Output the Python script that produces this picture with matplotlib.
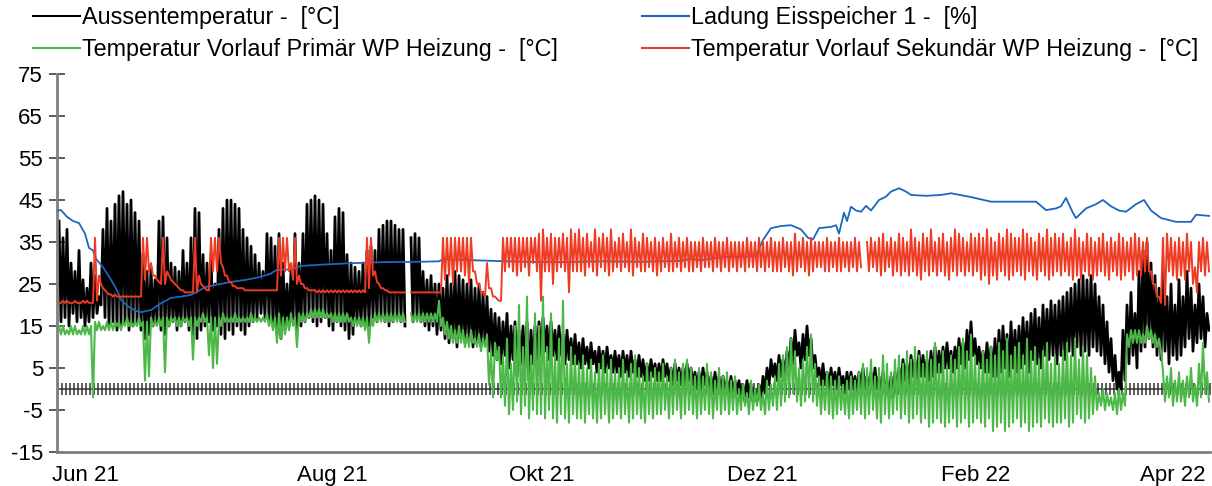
import numpy as np
import matplotlib.pyplot as plt

plt.rcParams['font.family'] = ['Liberation Sans', 'DejaVu Sans']
plt.rcParams['axes.unicode_minus'] = False

nan = np.nan

# x axis = day index (about 4 px per day)
month_pos = [6.75, 68.5, 121, 176, 229.5, 278.75]
month_labels = ["Jun 21", "Aug 21", "Okt 21", "Dez 21", "Feb 22", "Apr 22"]

# Aussentemperatur: daily max / min
aussen_hi = [
    40, 36, 38, 30, 28, 33, 26, 24, 30, 27,
    22, 38, 43, 40, 44, 46, 47, 44, 45, 42,
    40, 32, 28, 29, 26, 40, 41, 36, 30, 29,
    28, 33, 30, 36, 43, 42, 32, 30, 32, 25,
    38, 43, 45, 45, 44, 43, 38, 36, 34, 32,
    30, 28, 37, 36, 34, 37, 30, 25, 28, 37,
    30, 37, 44, 45, 46, 45, 44, 37, 33, 41,
    43, 42, 32, 30, 29, 28, 30, 33, 34, 33,
    38, 39, 40, 40, 39, 38, 38, nan, 36, 37,
    36, 28, 26, 27, 25, 25, 24, 27, 25, 28,
    27, 26, 25, 26, 24, 25, 23, 22, 19, 18,
    17, 16, 18, 15, 16, 14, 15, 16, 14, 15,
    16, 17, 15, 16, 14, 15, 13, 14, 12, 13,
    11, 12, 10, 11, 9, 10, 9, 10, 8, 9,
    8, 9, 8, 9, 7, 8, 7, 6, 7, 6,
    6, 7, 6, 5, 6, 5, 5, 6, 5, 4,
    4, 5, 4, 3, 4, 3, 3, 2, 3, 2,
    2, 1, 2, 1, 0, 1, 3, 5, 7, 6,
    8, 7, 9, 12, 14, 11, 13, 15, 12, 8,
    5, 6, 4, 5, 4, 5, 3, 4, 4, 3,
    4, 5, 3, 4, 5, 3, 4, 2, 3, 4,
    5, 7, 6, 8, 7, 9, 8, 7, 9, 10,
    9, 10, 11, 9, 10, 12, 11, 14, 16, 12,
    10, 9, 11, 10, 12, 14, 15, 13, 16, 14,
    15, 17, 16, 18, 19, 17, 20, 19, 21, 20,
    21, 22, 23, 24, 25, 26, 27, 26, 27, 25,
    22, 20, 16, 12, 8, 4, 14, 20, 23, 18,
    28, 33, 35, 30, 27, 24, 28, 22, 25, 20,
    26, 22, 28, 24, 20, 25, 22, 18,
]
aussen_lo = [
    16, 17, 15, 18, 16, 17, 15, 16, 17, 18,
    20, 17, 15, 16, 14, 15, 16, 14, 15, 16,
    14, 12, 13, 15, 16, 14, 13, 15, 16, 14,
    15, 16, 14, 13, 12, 14, 15, 16, 14, 15,
    13, 12, 14, 13, 15, 14, 13, 15, 16, 17,
    18, 17, 16, 15, 13, 12, 14, 15, 16, 14,
    15, 16, 17, 16, 15, 16, 17, 15, 14, 16,
    15, 14, 12, 13, 16, 15, 16, 15, 17, 16,
    17, 16, 15, 16, 17, 16, 15, nan, 16, 17,
    16, 15, 14, 15, 13, 14, 12, 11, 12, 10,
    12, 11, 12, 10, 11, 10, 11, 9, 8, 7,
    6, 8, 5, 7, 3, 6, 5, 2, 6, 7,
    8, 9, 7, 8, 7, 8, 6, 7, 6, 6,
    5, 6, 5, 6, 4, 5, 4, 5, 4, 4,
    3, 4, 3, 4, 3, 3, 2, 2, 3, 2,
    2, 3, 2, 1, 2, 1, 1, 2, 1, 0,
    0, 1, 0, -1, 0, -1, -1, -1, -2, -1,
    -2, -3, -2, -3, -3, -2, -1, 1, 3, 2,
    3, 3, 4, 6, 8, 5, 7, 8, 5, 3,
    1, 1, 0, 1, 0, 1, -1, 0, 0, -1,
    0, 0, -1, 0, 0, -2, -1, -2, -2, -1,
    1, 2, 1, 3, 2, 3, 3, 2, 3, 4,
    4, 5, 5, 4, 5, 6, 5, 7, 8, 6,
    5, 4, 4, 3, 3, 4, 5, 3, 5, 4,
    5, 6, 4, 7, 6, 5, 8, 7, 8, 6,
    8, 7, 9, 8, 10, 8, 9, 8, 10, 9,
    8, 6, 4, 2, 0, 0, 2, 6, 8, 5,
    9, 10, 12, 10, 8, 7, 9, 6, 8, 7,
    8, 10, 12, 9, 11, 12, 10, 14,
]

# Temperatur Vorlauf Primaer WP Heizung: daily max / min
primaer_hi = [
    15, 15, 14, 15, 15, 14, 15, 15, 15, 16,
    16, 15, 16, 16, 16, 16, 16, 17, 16, 16,
    17, 16, 16, 17, 16, 17, 17, 17, 17, 17,
    17, 17, 17, 17, 17, 17, 18, 17, 17, 17,
    17, 18, 17, 17, 18, 17, 17, 17, 18, 17,
    17, 17, 18, 17, 17, 18, 17, 17, 18, 17,
    18, 18, 18, 19, 19, 19, 19, 18, 18, 18,
    18, 18, 18, 17, 17, 17, 17, 17, 17, 18,
    18, 18, 18, 18, 18, 18, 18, nan, 18, 18,
    18, 18, 18, 18, 18, 21, 17, 16, 15, 14,
    15, 14, 13, 14, 12, 13, 12, 13, 9, 11,
    10, 8, 12, 6, 15, 20, 10, 22, 8, 18,
    15, 22, 10, 18, 8, 12, 21, 6, 10, 8,
    6, 8, 5, 7, 4, 6, 8, 5, 7, 4,
    5, 7, 4, 6, 8, 5, 3, 6, 4, 5,
    4, 6, 3, 5, 7, 4, 6, 7, 5, 3,
    5, 3, 6, 4, 2, 5, 3, 4, 2, 3,
    0, 1, -1, 2, 0, 1, -1, 2, 1, 3,
    6, 8, 10, 12, 9, 5, 7, 10, 13, 6,
    3, 2, 4, 3, 2, 3, 1, 2, 3, 2,
    4, 6, 5, 7, 3, 5, 8, 6, 4, 7,
    8, 6, 9, 7, 10, 8, 6, 9, 7, 11,
    6, 9, 5, 8, 7, 10, 12, 9, 13, 8,
    6, 9, 7, 10, 8, 11, 9, 12, 8, 10,
    11, 8, 12, 9, 10, 7, 9, 11, 6, 8,
    6, 9, 11, 8, 12, 7, 10, 8, 5, 3,
    -1, 0, -1, -2, -1, 0, -1, 13, 14, 14,
    14, 13, 15, 14, 13, 12, 4, 3, 5, 2,
    4, 2, 3, 5, 1, 6, 11, 4,
]
primaer_lo = [
    13, 13, 13, 13, 13, 13, 13, 13, -2, 14,
    14, 14, 14, 14, 15, 14, 15, 15, 15, 15,
    15, 2, 3, 15, 15, 15, 4, 15, 16, 15,
    15, 16, 15, 7, 15, 16, 16, 8, 5, 6,
    15, 16, 16, 16, 16, 16, 16, 16, 16, 16,
    16, 16, 15, 14, 11, 12, 13, 14, 15, 10,
    16, 16, 17, 17, 17, 17, 17, 17, 16, 16,
    16, 16, 16, 15, 15, 15, 14, 11, 15, 16,
    16, 16, 16, 16, 16, 16, 16, nan, 16, 16,
    16, 16, 16, 16, 16, 15, 13, 12, 11, 11,
    11, 10, 10, 11, 10, 9, 10, 1, -2, 7,
    -2, -4, -6, -5, -3, -6, -4, -7, -5, -6,
    -6, -7, -5, -7, -8, -6, -7, -8, -6, -7,
    -7, -8, -6, -7, -8, -7, -6, -8, -7, -6,
    -7, -6, -8, -7, -6, -7, -8, -6, -7, -6,
    -6, -5, -7, -6, -5, -7, -6, -5, -6, -7,
    -6, -5, -6, -7, -5, -6, -5, -6, -5, -6,
    -5, -4, -6, -5, -4, -5, -6, -5, -4, -5,
    -4, -3, -2, -1, -3, -4, -3, -2, -3, -4,
    -6, -5, -6, -7, -6, -5, -6, -7, -6, -5,
    -6, -7, -6, -5, -7, -8, -6, -7, -6, -5,
    -7, -6, -8, -7, -6, -8, -7, -9, -8, -7,
    -8, -9, -8, -7, -9, -8, -7, -9, -8, -7,
    -8, -9, -7, -10, -9, -8, -10, -9, -8, -7,
    -9, -8, -10, -9, -8, -9, -7, -8, -9, -8,
    -8, -7, -9, -8, -6, -7, -8, -7, -6, -5,
    -4, -5, -4, -5, -6, -5, -4, 10, 11, 11,
    11, 11, 12, 11, 10, 9, -3, -2, -4, -3,
    -3, -4, -2, -3, -4, -2, -1, -3,
]

# Temperatur Vorlauf Sekundaer WP Heizung: daily max / min
sekundaer_hi = [
    20.5, 21, 21, 20.5, 21, 20.5, 21, 21, 20.5, 36,
    27, 24, 23, 22.5, 22.5, 22, 22, 22, 22, 22,
    22, 36, 36, 30, 27, 25.5, 36, 28, 26, 25,
    24, 23.5, 23, 23, 36, 27, 24.5, 23.5, 36, 36,
    36, 29, 27, 25.5, 24.5, 24, 24, 23.5, 23.5, 23.5,
    23.5, 23.5, 23.5, 23.5, 23.5, 36, 36, 36, 30, 36,
    27, 25, 24, 23.5, 23.5, 23.5, 23.5, 23.5, 23.5, 23.5,
    23.5, 23.5, 23.5, 23.5, 23.5, 23.5, 23.5, 36, 36, 28,
    25, 24, 23.5, 23, 23, 23, 23, nan, 23, 23,
    23, 23, 23, 23, 23, 23, 36, 36, 36, 36,
    36, 36, 36, 36, 28, 25, 23, 30, 24, 22,
    21, 36, 36, 36, 36, 36, 36, 36, 36, 36,
    37, 38, 36, 37, 36, 36, 37, 36, 38, 37,
    38, 36, 37, 35, 38, 36, 37, 36, 38, 35,
    36, 37, 35, 38, 36, 35, 37, 36, 35, 36,
    35, 36, 35, 37, 35, 36, 35, 36, 35, 35,
    35, 36, 35, 35, 36, 35, 35, 36, 35, 35,
    35, 35, 36, 35, 35, 36, 35, 35, 36, 35,
    35, 36, 35, 35, 37, 35, 36, 35, 36, 35,
    35, 35, 36, 35, 35, 36, 35, 35, 35, 36,
    35, nan, 35, 36, 35, 36, 37, 35, 36, 35,
    37, 36, 35, 38, 36, 35, 37, 36, 38, 35,
    36, 37, 35, 36, 38, 37, 36, 35, 37, 36,
    37, 36, 38, 36, 35, 37, 36, 38, 37, 36,
    36, 38, 37, 36, 35, 37, 36, 38, 36, 37,
    36, 37, 35, 36, 38, 36, 35, 37, 36, 35,
    36, 37, 35, 36, 35, 37, 36, 35, 36, 37,
    36, 35, 36, 28, 25, 22, 36, 37, 36, 35,
    36, 35, 37, 35, 29, 35, 36, 35,
]
sekundaer_lo = [
    20.5, 20.5, 20.5, 20.5, 20.5, 20.5, 20.5, 20.5, 20.5, 21,
    25, 23.5, 22.5, 22, 22, 22, 22, 22, 22, 22,
    22, 26, 28, 27, 26, 25, 25, 27, 25.5, 24.5,
    23.5, 23, 23, 23, 23, 25, 24, 23.5, 28, 28,
    30, 27, 25.5, 24.5, 24, 24, 23.5, 23.5, 23.5, 23.5,
    23.5, 23.5, 23.5, 23.5, 23.5, 27, 28, 28, 26, 25,
    25, 24, 23.5, 23.5, 23, 23, 23, 23, 23, 23,
    23, 23, 23, 23, 23, 23, 23, 24, 27, 25.5,
    24, 23.5, 23, 23, 23, 23, 23, nan, 23, 23,
    23, 23, 23, 23, 23, 23, 26, 27, 25, 28,
    28, 27, 25, 28, 25, 23, 22, 24, 22, 21.5,
    21, 28, 29, 28, 27, 28, 29, 27, 30, 28,
    21, 28, 28, 25, 28, 29, 28, 23, 28, 28,
    28, 27, 29, 28, 27, 29, 28, 27, 28, 29,
    28, 29, 28, 27, 29, 28, 28, 29, 28, 27,
    28, 29, 28, 28, 29, 28, 29, 28, 28, 29,
    28, 29, 29, 28, 29, 28, 29, 28, 29, 28,
    29, 28, 29, 29, 28, 29, 28, 29, 28, 28,
    28, 29, 28, 27, 28, 29, 28, 27, 28, 29,
    29, 28, 28, 29, 28, 28, 29, 28, 29, 28,
    29, nan, 28, 29, 28, 27, 28, 29, 27, 28,
    27, 28, 27, 28, 27, 26, 28, 27, 28, 27,
    28, 27, 26, 28, 27, 28, 27, 28, 27, 28,
    26, 27, 25, 27, 26, 28, 27, 26, 27, 28,
    27, 26, 28, 27, 26, 28, 27, 26, 27, 28,
    27, 28, 27, 26, 27, 26, 28, 27, 26, 27,
    28, 27, 26, 28, 27, 26, 27, 28, 26, 27,
    27, 28, 28, 25, 22, 20.5, 20, 28, 27, 26,
    27, 26, 28, 25, 23, 28, 27, 28,
]

# Ladung Eisspeicher 1 (smooth line)
ladung_days = [0, 0.75, 2.25, 3.75, 5.25, 6.75, 7.75, 8.75, 9.5, 11.25, 13.25,
               14.5, 15.75, 17.75, 19.5, 20.75, 23.25, 25.75, 28.25, 30.75,
               33.25, 37, 39.5, 43.25, 47, 50.75, 53.25, 54.5, 58.25, 60.75,
               65.75, 72, 80.75, 90.75, 95.25, 96.25, 105.75, 115.75, 125.75,
               135.75, 145.75, 155.75, 158.25, 160.75, 165.75, 172, 174.5,
               176.25, 178.25, 180.75, 183.25, 185.75, 187.5, 188.75, 190.25,
               193.25, 194.5, 195.25, 196.5, 197.25, 198.25, 199.5, 200.75,
               202, 203.25, 205.25, 207, 208.25, 210.25, 212, 213.25, 217,
               220.75, 223.25, 228.25, 233.25, 238.25, 244.5, 247, 249.5,
               250.75, 252, 253.75, 254.5, 257, 259.5, 261.25, 263.25,
               265.25, 267, 269.5, 271.5, 273.25, 275.75, 279.5, 283.25,
               284.5, 288]
ladung_vals = [42.5, 42.6, 41, 40, 39.5, 37, 33.6, 33, 31, 29, 26,
               24, 21.2, 19.5, 18.6, 18.3, 18.8, 20.4, 21.7, 22,
               22.4, 24.3, 24.8, 25.5, 26, 26.7, 27.5, 28.3, 28.5, 29.3,
               29.6, 29.9, 30.2, 30.3, 30.4, 30.9, 30.6, 30.3, 30.2,
               30.4, 30.3, 30.5, 31, 30.6, 31.4, 31.5, 31.8,
               35.5, 38.3, 38.8, 39, 38, 36, 35.6, 38.3,
               38.6, 39, 37, 42, 40, 43.4, 42.5, 42.2,
               43.6, 42.5, 45, 45.8, 47, 47.8, 47, 46.2, 46,
               46.2, 46.6, 45.7, 44.6, 44.6, 44.6, 42.6, 43,
               43.5, 45.5, 41.9, 40.7, 43, 44, 45, 43.5,
               42.5, 42.2, 44, 45, 42.5, 40.7, 39.8, 39.8,
               41.5, 41.2]

n_days = len(aussen_hi)
for arr in (aussen_lo, primaer_hi, primaer_lo, sekundaer_hi, sekundaer_lo):
    assert len(arr) == n_days, len(arr)


def zigzag(hi, lo):
    d = np.arange(len(hi))
    x = np.column_stack([d + 0.25, d + 0.75]).ravel()
    y = np.column_stack([np.asarray(hi, float), np.asarray(lo, float)]).ravel()
    return x, y


fig = plt.figure(figsize=(12.12, 4.86), dpi=100)
ax = fig.add_axes([57 / 1212, 1 - 452 / 486, 1153 / 1212, 378 / 486])

c_black = '#000000'
c_green = '#4cb847'
c_red = '#ee3b24'
c_blue = '#1c66bf'

# x axis crossing at 0 with daily tick marks
ax.axhline(0, color='#404040', lw=1.2, zorder=1)
ax.plot(np.arange(n_days + 1), np.zeros(n_days + 1), ls='none', marker='|',
        ms=8, mew=1.1, color='#303030', zorder=1)

x, y = zigzag(aussen_hi, aussen_lo)
l_aussen, = ax.plot(x, y, color=c_black, lw=2.0, zorder=2)
l_ladung, = ax.plot(ladung_days, ladung_vals, color=c_blue, lw=1.3, zorder=3)
x, y = zigzag(primaer_hi, primaer_lo)
l_primaer, = ax.plot(x, y, color=c_green, lw=1.5, zorder=4)
x, y = zigzag(sekundaer_hi, sekundaer_lo)
l_sekundaer, = ax.plot(x, y, color=c_red, lw=1.4, zorder=5)

ax.set_xlim(-0.25, 288)
ax.set_ylim(-15, 75)
ax.set_yticks(range(-15, 76, 10))
ax.set_xticks(month_pos)
ax.set_xticklabels(month_labels)

for s in ('top', 'right'):
    ax.spines[s].set_visible(False)
for s in ('left', 'bottom'):
    ax.spines[s].set_color('#7f7f7f')
    ax.spines[s].set_linewidth(2)

ax.tick_params(axis='y', direction='inout', length=12, width=1.2,
               color='#404040', labelsize=16, pad=4)
ax.tick_params(axis='x', length=0, labelsize=16, pad=9)

handles = [l_aussen, l_primaer, l_ladung, l_sekundaer]
labels = ["Aussentemperatur -  [°C]",
          "Temperatur Vorlauf Primär WP Heizung -  [°C]",
          "Ladung Eisspeicher 1 -  [%]",
          "Temperatur Vorlauf Sekundär WP Heizung -  [°C]"]
leg = fig.legend(handles, labels, loc='upper left',
                 bbox_to_anchor=(33 / 1212, 1 - 6 / 486),
                 ncol=2, frameon=False, fontsize=16.8, handlelength=2.0,
                 handletextpad=0.1, columnspacing=3.6, labelspacing=0.38,
                 borderpad=0, borderaxespad=0)
for h in leg.get_lines():
    h.set_linewidth(1.5)

fig.savefig('out.png', dpi=100)
